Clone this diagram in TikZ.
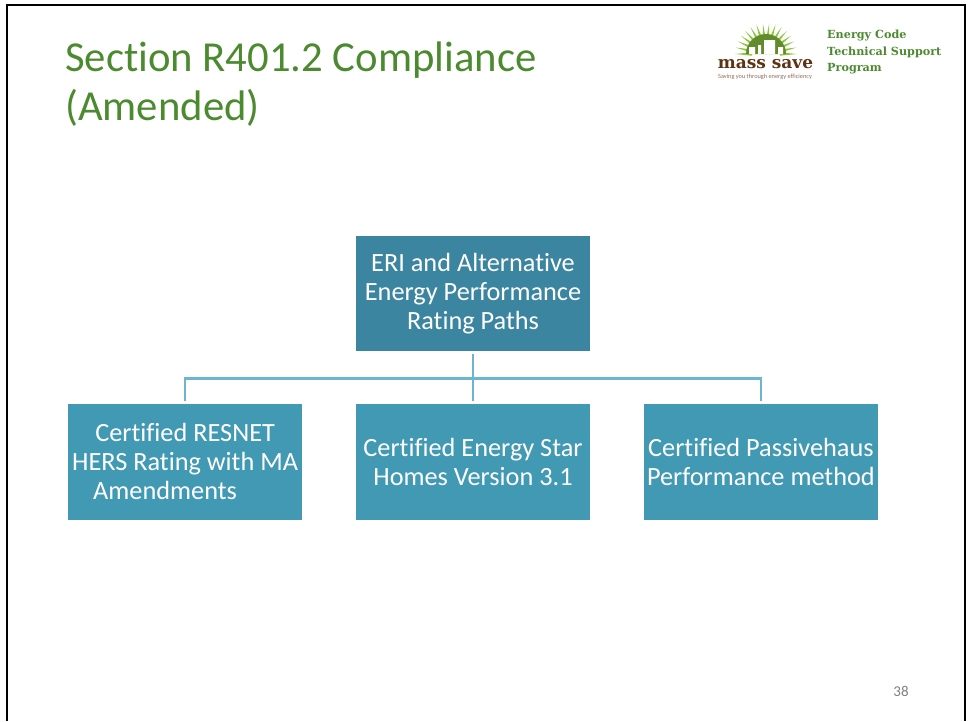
\documentclass[tikz,border=0pt]{standalone}
\usepackage{fontspec}
\setmainfont{Carlito}[Ligatures=NoCommon]
\newfontfamily\logofont{DejaVu Serif}
\usetikzlibrary{calc,positioning}
\definecolor{TitleGreen}{HTML}{4C8A2F}
\definecolor{RootBlue}{HTML}{3C85A0}
\definecolor{LeafBlue}{HTML}{4299B4}
\definecolor{LinkBlue}{HTML}{6DB6D0}
\definecolor{LogoBrown}{HTML}{5E3313}
\definecolor{LogoGreen}{HTML}{8CC63F}
\tikzset{
  RateBox/.style={fill=LeafBlue,text=white,minimum width=234.5pt,minimum height=115.5pt,inner sep=0pt,align=center,font=\fontsize{26.3}{29}\selectfont},
  Link/.style={draw=LinkBlue,line width=2.4pt,shorten <=3pt,shorten >=3pt},
  LogoText/.style={inner sep=0pt,text=TitleGreen,align=left,font=\logofont\bfseries\fontsize{11.2}{16.5}\selectfont}
}
\begin{document}
\begin{tikzpicture}[x=1pt,y=-1pt]
\useasboundingbox (0,0) rectangle (969,721);
\draw [line width=2.6pt] (7,721) -- (7,5) -- (965,5) -- (965,721);
\node [anchor=north west,inner sep=0pt,align=left,text=TitleGreen,font=\fontsize{42.7}{49}\selectfont] (Title) at (65,42) {Section R401.2 Compliance\\(Amended)};
\node [RateBox,fill=RootBlue] (ERI) at (473,293.5) {ERI and Alternative\\Energy Performance\\Rating Paths};
\node [RateBox,below=52.5pt of ERI] (EnergyStar) {Certified Energy Star\\Homes Version 3.1};
\node [RateBox,left=53pt of EnergyStar] (RESNET) {Certified RESNET\\HERS Rating with MA\\Amendments\hspace*{40pt}};
\node [RateBox,right=53pt of EnergyStar] (Passivehaus) {Certified Passivehaus\\Performance method};
\draw [Link] (ERI.south) -- (EnergyStar.north);
\draw [Link] (ERI.south) -- ($(ERI.south)+(0,27)$) -| (RESNET.north);
\draw [Link] (ERI.south) -- ($(ERI.south)+(0,27)$) -| (Passivehaus.north);
\node [text=gray,inner sep=0pt,font=\fontsize{15}{18}\selectfont] (PageNum) at (901,691) {38};
% logo
\foreach \a in {180,192,...,360}
  \fill [LogoGreen] ($(766,54)+(\a-7:14)$) -- ($(766,54)+(\a:31)$) -- ($(766,54)+(\a+7:14)$) -- cycle;
\fill [LogoGreen!70!black] (746,54) arc (180:360:20) -- cycle;
\fill [white] (749,54) rectangle (755,47) (758,54) rectangle (761,45) (764,54) rectangle (775,40) (778,54) rectangle (783,47);
\node [inner sep=0pt,text=LogoBrown,font=\logofont\bfseries\fontsize{17}{18}\selectfont] (MassSave) at (765.5,64.5) {mass save};
\node [inner sep=0pt,text=LogoBrown!70,font=\fontsize{6.3}{7}\selectfont] (Tagline) at (765,77) {Saving you through energy efficiency};
\node [LogoText,anchor=north west] (Program) at (827,30) {Energy Code\\Technical Support\\Program};
\end{tikzpicture}
\end{document}
